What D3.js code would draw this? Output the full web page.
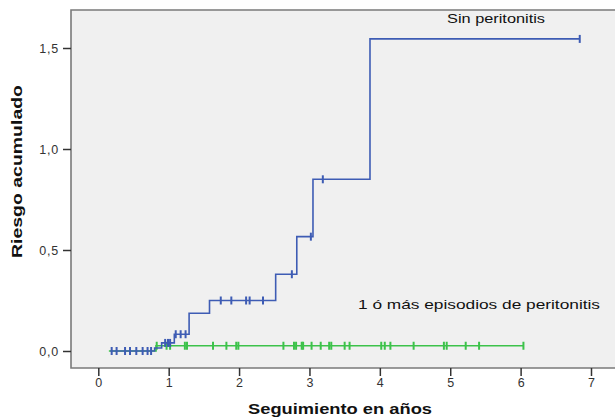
<!DOCTYPE html>
<html><head><meta charset="utf-8">
<script src="https://cdn.jsdelivr.net/npm/d3@7"></script>
<style>body{margin:0;background:#fff}svg{display:block}</style>
</head><body>
<script>
// Data: step curves (time in years, cumulative risk), censor marks
const xTicks = [0,1,2,3,4,5,6,7];
const yTicks = [0, 0.5, 1.0, 1.5];
const yTickLabels = ["0,0","0,5","1,0","1,5"];

const sinSteps = [[0.17,0],[0.80,0.015],[0.90,0.04],[1.08,0.083],[1.29,0.187],[1.58,0.25],[2.52,0.38],[2.82,0.566],[3.05,0.85],[3.86,1.545]];
const sinEnd = 6.84;
const sinCensor = [0.19,0.26,0.38,0.45,0.54,0.63,0.70,0.75,0.95,0.99,1.02,1.10,1.17,1.24,1.74,1.89,2.10,2.15,2.34,2.75,3.02,3.19,6.84];

const conSteps = [[0.15,0],[0.82,0.026]];
const conEnd = 6.04;
const conCensor = [0.83,0.97,1.02,1.23,1.26,1.63,1.82,1.96,1.99,2.63,2.78,2.81,2.89,2.91,3.03,3.16,3.28,3.31,3.50,3.57,4.02,4.07,4.15,4.48,4.91,4.95,5.22,5.41,6.04];

const W = 615, H = 420;
const FONT = "Liberation Sans, Arial, sans-serif";
const svg = d3.select("body").append("svg").attr("width", W).attr("height", H);
const plot = {left:71, top:10, right:615, bottom:368};
const x = d3.scaleLinear().domain([0,7]).range([98.3, 591]);
const y = d3.scaleLinear().domain([0,1.5]).range([351, 48]);

svg.append("rect").attr("x",plot.left).attr("y",plot.top)
  .attr("width",plot.right-plot.left).attr("height",plot.bottom-plot.top).attr("fill","#f0f0f0");
svg.append("path").attr("d",`M${plot.right+2},${plot.top}H${plot.left}V${plot.bottom}H${plot.right+2}`)
  .attr("fill","none").attr("stroke","#7a7a7a").attr("stroke-width",1.6);

const xAxis = d3.axisBottom(x).tickValues(xTicks).tickSize(8).tickPadding(2).tickFormat(d3.format("d"));
const gx = svg.append("g").attr("transform",`translate(0,${plot.bottom})`).call(xAxis);
gx.select(".domain").remove();
gx.selectAll("line").attr("stroke","#333").attr("stroke-width",1.5);
gx.selectAll("text").attr("font-family",FONT).attr("font-size",12.5).attr("fill","#333");

const yAxis = d3.axisLeft(y).tickValues(yTicks).tickSize(8).tickPadding(4).tickFormat((d,i)=>yTickLabels[i]);
const gy = svg.append("g").attr("transform",`translate(${plot.left},0)`).call(yAxis);
gy.select(".domain").remove();
gy.selectAll("line").attr("stroke","#333").attr("stroke-width",1.5);
gy.selectAll("text").attr("font-family",FONT).attr("font-size",12.5).attr("letter-spacing",0.8).attr("fill","#333");

svg.append("text").attr("x",248).attr("y",414)
  .attr("font-family",FONT).attr("font-weight","bold").attr("font-size",15).attr("fill","#111")
  .attr("textLength",184).attr("lengthAdjust","spacingAndGlyphs")
  .text("Seguimiento en años");
svg.append("text").attr("transform","translate(22,258) rotate(-90)")
  .attr("font-family",FONT).attr("font-weight","bold").attr("font-size",15).attr("fill","#111")
  .attr("textLength",173).attr("lengthAdjust","spacingAndGlyphs")
  .text("Riesgo acumulado");

function stepPath(steps, end){
  const pts = steps.map(d=>[d[0],d[1]]).concat([[end, steps[steps.length-1][1]]]);
  return d3.line().x(d=>x(d[0])).y(d=>y(d[1])).curve(d3.curveStepAfter)(pts);
}
function levelAt(steps, t){
  let v = steps[0][1];
  for (const s of steps) if (s[0] <= t) v = s[1];
  return v;
}
function drawCurve(steps, end, censor, color){
  svg.append("path").attr("d",stepPath(steps,end)).attr("fill","none")
    .attr("stroke",color).attr("stroke-width",1.6);
  svg.append("g").selectAll("line").data(censor).join("line")
    .attr("x1",d=>x(d)).attr("x2",d=>x(d))
    .attr("y1",d=>y(levelAt(steps,d))-4).attr("y2",d=>y(levelAt(steps,d))+4)
    .attr("stroke",color).attr("stroke-width",2);
}
drawCurve(conSteps, conEnd, conCensor, "#3cc24a");
drawCurve(sinSteps, sinEnd, sinCensor, "#3e5cb4");

svg.append("text").attr("x",447).attr("y",23)
  .attr("font-family",FONT).attr("font-size",13).attr("fill","#111")
  .attr("textLength",98).attr("lengthAdjust","spacingAndGlyphs")
  .text("Sin peritonitis");
svg.append("text").attr("x",358).attr("y",309)
  .attr("font-family",FONT).attr("font-size",13).attr("fill","#111")
  .attr("textLength",242).attr("lengthAdjust","spacingAndGlyphs")
  .text("1 ó más episodios de peritonitis");
</script>
</body></html>
